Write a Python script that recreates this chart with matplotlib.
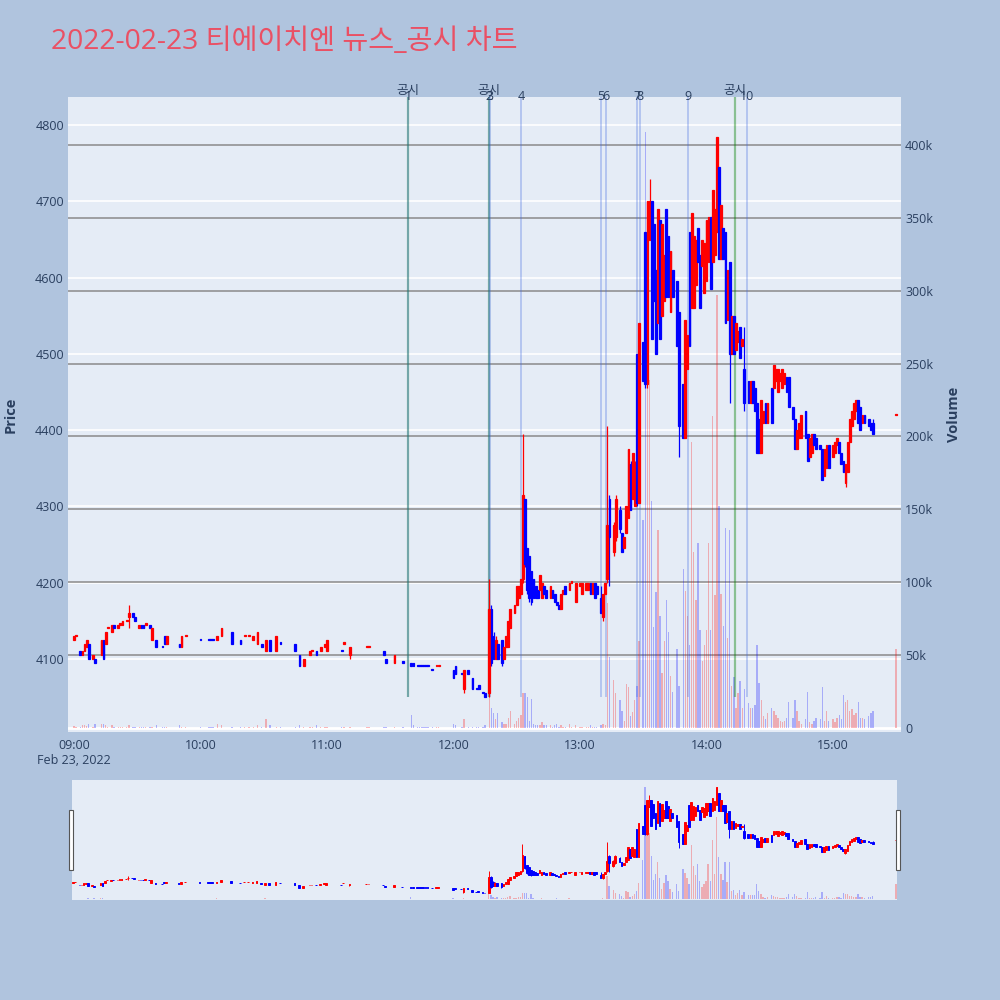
import matplotlib
matplotlib.use('Agg')
import matplotlib.pyplot as plt
import matplotlib.patches as patches
from matplotlib.ticker import FuncFormatter
import numpy as np

plt.rcParams['font.family'] = ['Open Sans', 'Noto Sans CJK KR', 'DejaVu Sans']

# minute candles, minutes after 09:00
minutes = [
    0, 1, 3, 4, 5, 6, 7, 9, 10, 13,
    14, 15, 16, 18, 19, 21, 22, 23, 25, 26,
    28, 29, 31, 32, 33, 34, 36, 37, 39, 42,
    43, 44, 50, 51, 53, 60, 64, 65, 66, 68,
    70, 75, 79, 81, 83, 85, 87, 89, 91, 93,
    96, 98, 105, 107, 109, 112, 113, 115, 117, 119,
    120, 127, 128, 131, 139, 140, 147, 148, 152, 156,
    160, 161, 163, 164, 165, 166, 167, 168, 170, 172,
    173, 180, 181, 184, 185, 187, 189, 191, 192, 194,
    195, 197, 198, 199, 200, 201, 203, 204, 205, 206,
    207, 209, 210, 211, 212, 213, 214, 215, 216, 217,
    218, 219, 220, 221, 222, 223, 224, 226, 227, 228,
    229, 230, 231, 232, 233, 235, 236, 238, 240, 241,
    243, 244, 245, 246, 247, 248, 250, 251, 252, 253,
    254, 256, 257, 259, 260, 261, 262, 263, 264, 265,
    266, 267, 268, 270, 271, 272, 273, 274, 275, 276,
    277, 278, 279, 280, 281, 282, 283, 284, 286, 287,
    289, 290, 291, 292, 293, 294, 295, 296, 297, 298,
    299, 300, 301, 302, 303, 304, 305, 306, 307, 308,
    309, 310, 311, 312, 313, 314, 315, 316, 317, 318,
    320, 321, 322, 323, 324, 325, 326, 327, 328, 329,
    331, 332, 333, 334, 335, 336, 337, 338, 339, 341,
    342, 343, 344, 345, 347, 348, 349, 350, 351, 352,
    354, 355, 356, 357, 358, 360, 361, 362, 363, 364,
    365, 366, 367, 368, 369, 370, 371, 372, 373, 374,
    375, 377, 378, 379, 390]

opens = [
    4125, 4130, 4110, 4105, 4110, 4115, 4120, 4100, 4100, 4105,
    4125, 4120, 4140, 4135, 4145, 4140, 4145, 4145, 4150, 4155,
    4160, 4155, 4140, 4145, 4145, 4145, 4145, 4125, 4125, 4115,
    4130, 4120, 4120, 4115, 4130, 4125, 4125, 4125, 4125, 4125,
    4130, 4135, 4125, 4130, 4130, 4125, 4120, 4120, 4110, 4125,
    4110, 4120, 4120, 4105, 4090, 4105, 4110, 4110, 4110, 4115,
    4110, 4110, 4120, 4105, 4115, 4115, 4110, 4100, 4095, 4095,
    4095, 4095, 4090, 4090, 4090, 4090, 4090, 4090, 4085, 4090,
    4090, 4085, 4090, 4080, 4060, 4085, 4075, 4060, 4065, 4055,
    4055, 4055, 4165, 4130, 4100, 4120, 4125, 4100, 4115, 4115,
    4140, 4160, 4170, 4180, 4185, 4205, 4310, 4245, 4235, 4215,
    4205, 4195, 4190, 4190, 4180, 4195, 4190, 4180, 4190, 4185,
    4175, 4170, 4165, 4185, 4195, 4190, 4200, 4175, 4195, 4185,
    4190, 4190, 4200, 4185, 4200, 4195, 4180, 4155, 4185, 4205,
    4310, 4240, 4260, 4295, 4265, 4245, 4265, 4285, 4355, 4310,
    4300, 4500, 4305, 4515, 4660, 4460, 4650, 4700, 4670, 4610,
    4540, 4675, 4550, 4570, 4690, 4655, 4555, 4610, 4595, 4555,
    4460, 4390, 4480, 4660, 4560, 4560, 4590, 4665, 4630, 4615,
    4580, 4595, 4620, 4680, 4620, 4630, 4660, 4745, 4625, 4665,
    4660, 4545, 4620, 4500, 4550, 4505, 4515, 4535, 4510, 4480,
    4465, 4435, 4465, 4455, 4435, 4415, 4370, 4410, 4435, 4410,
    4455, 4455, 4465, 4450, 4465, 4455, 4460, 4470, 4470, 4430,
    4415, 4375, 4390, 4390, 4425, 4395, 4365, 4370, 4395, 4390,
    4380, 4375, 4340, 4350, 4380, 4365, 4370, 4380, 4385, 4370,
    4360, 4330, 4345, 4385, 4405, 4415, 4425, 4440, 4430, 4410,
    4420, 4415, 4410, 4410, 4420]

highs = [
    4130, 4130, 4110, 4110, 4120, 4125, 4120, 4105, 4100, 4125,
    4125, 4135, 4140, 4145, 4145, 4145, 4145, 4150, 4150, 4170,
    4160, 4155, 4145, 4145, 4145, 4145, 4145, 4140, 4125, 4115,
    4130, 4130, 4120, 4130, 4130, 4125, 4125, 4125, 4125, 4130,
    4140, 4135, 4125, 4130, 4130, 4130, 4135, 4120, 4125, 4125,
    4130, 4120, 4120, 4105, 4100, 4110, 4110, 4110, 4115, 4120,
    4125, 4110, 4120, 4115, 4115, 4115, 4110, 4100, 4105, 4095,
    4095, 4095, 4090, 4090, 4090, 4090, 4090, 4090, 4085, 4090,
    4090, 4085, 4090, 4080, 4085, 4085, 4075, 4060, 4065, 4055,
    4055, 4205, 4170, 4135, 4130, 4120, 4125, 4115, 4130, 4150,
    4165, 4170, 4195, 4195, 4205, 4395, 4310, 4245, 4235, 4215,
    4205, 4195, 4190, 4210, 4200, 4195, 4190, 4195, 4190, 4185,
    4175, 4170, 4185, 4190, 4195, 4200, 4200, 4200, 4200, 4200,
    4200, 4200, 4200, 4200, 4200, 4195, 4195, 4185, 4200, 4405,
    4315, 4280, 4315, 4300, 4265, 4260, 4300, 4375, 4360, 4370,
    4360, 4500, 4540, 4515, 4660, 4700, 4730, 4700, 4670, 4610,
    4690, 4675, 4670, 4630, 4690, 4655, 4635, 4610, 4595, 4555,
    4460, 4545, 4525, 4660, 4685, 4655, 4650, 4665, 4630, 4650,
    4645, 4675, 4680, 4680, 4715, 4690, 4785, 4745, 4695, 4665,
    4660, 4610, 4620, 4550, 4550, 4540, 4530, 4535, 4520, 4535,
    4465, 4465, 4465, 4455, 4435, 4415, 4440, 4425, 4435, 4435,
    4455, 4485, 4480, 4480, 4475, 4480, 4475, 4470, 4470, 4430,
    4415, 4400, 4410, 4420, 4425, 4395, 4390, 4395, 4395, 4390,
    4380, 4375, 4375, 4380, 4380, 4380, 4385, 4390, 4385, 4370,
    4360, 4355, 4385, 4415, 4425, 4435, 4440, 4440, 4430, 4420,
    4420, 4415, 4410, 4415, 4420]

lows = [
    4125, 4130, 4105, 4105, 4110, 4115, 4100, 4100, 4095, 4105,
    4100, 4120, 4140, 4135, 4140, 4140, 4145, 4145, 4150, 4140,
    4155, 4150, 4140, 4140, 4140, 4145, 4140, 4125, 4115, 4115,
    4120, 4120, 4115, 4115, 4130, 4125, 4125, 4125, 4125, 4125,
    4130, 4120, 4120, 4130, 4130, 4125, 4120, 4115, 4110, 4110,
    4110, 4120, 4110, 4090, 4090, 4105, 4110, 4105, 4110, 4115,
    4110, 4110, 4120, 4100, 4115, 4115, 4105, 4095, 4095, 4095,
    4090, 4090, 4090, 4090, 4090, 4090, 4090, 4090, 4085, 4090,
    4090, 4075, 4080, 4080, 4055, 4080, 4060, 4060, 4060, 4055,
    4050, 4050, 4090, 4100, 4100, 4100, 4090, 4100, 4115, 4115,
    4140, 4160, 4170, 4180, 4185, 4200, 4220, 4185, 4175, 4170,
    4180, 4180, 4180, 4190, 4180, 4185, 4180, 4180, 4180, 4175,
    4170, 4165, 4165, 4185, 4185, 4190, 4200, 4175, 4195, 4185,
    4190, 4190, 4185, 4185, 4180, 4185, 4160, 4150, 4185, 4200,
    4195, 4235, 4255, 4265, 4240, 4245, 4265, 4285, 4295, 4310,
    4300, 4300, 4305, 4465, 4455, 4455, 4650, 4520, 4570, 4500,
    4540, 4520, 4550, 4570, 4575, 4575, 4555, 4575, 4510, 4365,
    4390, 4390, 4480, 4510, 4560, 4560, 4590, 4620, 4560, 4615,
    4580, 4595, 4620, 4585, 4620, 4630, 4660, 4625, 4625, 4625,
    4540, 4545, 4435, 4500, 4500, 4505, 4515, 4495, 4510, 4425,
    4435, 4435, 4435, 4425, 4370, 4370, 4370, 4410, 4410, 4410,
    4410, 4455, 4465, 4450, 4465, 4455, 4460, 4450, 4430, 4415,
    4375, 4375, 4390, 4390, 4390, 4360, 4365, 4370, 4380, 4375,
    4375, 4335, 4340, 4350, 4350, 4365, 4370, 4380, 4370, 4355,
    4345, 4325, 4345, 4385, 4405, 4415, 4425, 4410, 4400, 4410,
    4410, 4405, 4400, 4395, 4420]

closes = [
    4130, 4130, 4105, 4110, 4120, 4125, 4100, 4105, 4095, 4125,
    4100, 4135, 4140, 4145, 4140, 4145, 4145, 4150, 4150, 4160,
    4155, 4150, 4145, 4140, 4140, 4145, 4140, 4140, 4115, 4115,
    4120, 4130, 4115, 4130, 4130, 4125, 4125, 4125, 4125, 4130,
    4140, 4120, 4120, 4130, 4130, 4130, 4135, 4115, 4125, 4110,
    4130, 4120, 4110, 4090, 4100, 4110, 4110, 4105, 4115, 4120,
    4125, 4110, 4120, 4115, 4115, 4115, 4105, 4095, 4105, 4095,
    4090, 4090, 4090, 4090, 4090, 4090, 4090, 4090, 4085, 4090,
    4090, 4075, 4080, 4080, 4085, 4080, 4060, 4060, 4060, 4055,
    4050, 4165, 4095, 4100, 4125, 4100, 4095, 4115, 4130, 4150,
    4165, 4170, 4195, 4195, 4205, 4315, 4225, 4190, 4180, 4175,
    4180, 4180, 4180, 4210, 4200, 4185, 4180, 4195, 4180, 4175,
    4170, 4165, 4185, 4190, 4185, 4200, 4200, 4200, 4200, 4200,
    4200, 4200, 4185, 4200, 4180, 4185, 4160, 4185, 4200, 4275,
    4260, 4275, 4310, 4270, 4240, 4260, 4300, 4375, 4295, 4370,
    4355, 4305, 4540, 4465, 4460, 4700, 4700, 4520, 4570, 4500,
    4690, 4520, 4670, 4630, 4575, 4575, 4635, 4575, 4510, 4405,
    4390, 4545, 4525, 4510, 4685, 4655, 4650, 4620, 4560, 4650,
    4645, 4675, 4680, 4585, 4715, 4690, 4785, 4625, 4695, 4625,
    4540, 4610, 4500, 4550, 4500, 4540, 4530, 4495, 4520, 4435,
    4435, 4465, 4435, 4425, 4370, 4370, 4440, 4425, 4410, 4435,
    4410, 4485, 4480, 4480, 4475, 4480, 4475, 4450, 4430, 4415,
    4375, 4400, 4410, 4420, 4390, 4360, 4390, 4395, 4380, 4375,
    4375, 4335, 4375, 4380, 4350, 4380, 4385, 4390, 4370, 4355,
    4345, 4355, 4385, 4415, 4425, 4435, 4440, 4410, 4400, 4420,
    4410, 4405, 4400, 4395, 4420]

# volume in thousands of shares
volumes_k = [
    1.5, 1, 1, 2, 2, 1.5, 3, 1, 3, 3,
    3, 2, 1, 2, 1, 1, 1, 1, 1, 2,
    1, 1, 1, 1, 1, 1, 1, 1, 2, 1,
    1, 1, 2, 1, 1, 1, 1, 1, 1, 3,
    2, 1, 1, 1, 1, 1, 2, 1, 6, 2,
    1, 1, 1, 2, 1, 1, 1, 2, 1, 1,
    1, 1, 1, 1, 1, 1, 1, 1, 1, 1,
    9, 2, 1, 1, 1, 1, 1, 1, 1, 1,
    1, 3, 2, 1, 6, 1, 1, 1, 1, 1,
    2, 21, 14, 10, 6, 10, 4, 3, 3, 7,
    12, 3, 5, 7, 9, 24, 24, 21, 5, 20,
    3, 2, 2, 2, 4, 2, 2, 2, 1, 2,
    3, 1, 2, 1, 1, 3, 1, 2, 1, 1,
    1, 1, 2, 1, 1, 1, 2, 3, 2, 86,
    49, 33, 24, 19, 12, 5, 30, 28, 8, 11,
    19, 29, 60, 143, 409, 266, 239, 156, 69, 93,
    136, 77, 38, 60, 88, 66, 36, 25, 54, 29,
    109, 94, 77, 57, 196, 121, 88, 127, 67, 46,
    57, 67, 127, 67, 214, 91, 297, 152, 92, 70,
    137, 62, 136, 29, 35, 14, 24, 32, 14, 27,
    17, 14, 14, 16, 57, 31, 19, 8, 6, 10,
    14, 12, 9, 7, 5, 4, 5, 7, 18, 7,
    19, 12, 5, 3, 6, 25, 4, 3, 5, 7,
    6, 28, 5, 12, 5, 6, 4, 7, 9, 6,
    23, 18, 19, 12, 13, 9, 10, 18, 7, 7,
    6, 8, 10, 12, 54]

# news (numbered) and disclosure (공시) times, minutes after 09:00
news_times = [158.6, 196.9, 197.2, 212.0, 250.0, 252.4, 267.1, 268.5, 291.3, 319.3]
news_labels = ['1', '2', '3', '4', '5', '6', '7', '8', '9', '10']
disclosure_times = [158.4, 196.9, 313.6]

hour_ticks = [0, 60, 120, 180, 240, 300, 360]
hour_labels = ['09:00\nFeb 23, 2022', '10:00', '11:00', '12:00', '13:00', '14:00', '15:00']
price_ticks = [4100, 4200, 4300, 4400, 4500, 4600, 4700, 4800]
volume_ticks = [0, 50, 100, 150, 200, 250, 300, 350, 400]

PAPER = '#B0C4DE'
PLOT_BG = '#E5ECF6'
FONT_C = '#2a3f5f'
UP = '#FF0000'
DOWN = '#0000FF'

PRICE_LIM = (4004, 4837)
VOL_LIM = (-2.7e3, 432.8e3)

x = np.array(minutes, dtype=float)
o = np.array(opens, dtype=float)
h = np.array(highs, dtype=float)
l = np.array(lows, dtype=float)
c = np.array(closes, dtype=float)
v = np.array(volumes_k) * 1000


def directions(o, c):
    # doji candles take their colour from the move against the previous close
    ups = []
    prev_c, prev_up = None, True
    for oo, cc in zip(o, c):
        if cc > oo:
            up = True
        elif cc < oo:
            up = False
        elif prev_c is None or cc > prev_c:
            up = True
        elif cc < prev_c:
            up = False
        else:
            up = prev_up
        ups.append(up)
        prev_c, prev_up = cc, up
    return np.array(ups)


up = directions(o, c)
cols = np.where(up, UP, DOWN)


def draw_candles(axp, axv, lw, body_w):
    axv.bar(x, v, width=0.65, color=cols, alpha=0.27, linewidth=0, zorder=2)
    axp.vlines(x, l, h, colors=cols, linewidth=lw, zorder=4)
    body = np.maximum(np.abs(c - o), 1.5)
    axp.bar(x, body, bottom=np.minimum(o, c), width=body_w, color=cols,
            edgecolor=cols, linewidth=lw, zorder=5)


fig = plt.figure(figsize=(10, 10), dpi=100)
fig.patch.set_facecolor(PAPER)

# ---- main chart
ax = fig.add_axes([0.068, 0.268, 0.833, 0.635])
ax.set_facecolor(PLOT_BG)
axp = ax.twinx()
axp.set_zorder(ax.get_zorder() + 1)
axp.patch.set_visible(False)

ax.set_xlim(-2.85, 392.3)
ax.set_ylim(*VOL_LIM)
axp.set_ylim(*PRICE_LIM)

for p in price_ticks:
    ax.plot([-10, 400], [p, p], transform=axp.transData, color='white', lw=1.2, zorder=0.5)
for vt in volume_ticks[1:]:
    ax.axhline(vt * 1000, color='#8a8a8a', lw=1.1, zorder=1)
ax.axhline(0, color='white', lw=2, zorder=1.5)

draw_candles(axp, ax, 0.9, 0.85)

for t in disclosure_times:
    axp.vlines(t, 4050, PRICE_LIM[1], colors='green', alpha=0.4, linewidth=1.6, zorder=3)
    axp.text(t, 1.011, '공시', transform=axp.get_xaxis_transform(), ha='center', va='center',
             fontsize=9, color=FONT_C, clip_on=False)
for t, lab in zip(news_times, news_labels):
    axp.vlines(t, 4050, PRICE_LIM[1], colors='royalblue', alpha=0.3, linewidth=1.4, zorder=3)
    axp.text(t, 1.0, lab, transform=axp.get_xaxis_transform(), ha='center', va='center',
             fontsize=9, color=FONT_C, clip_on=False)

for a in (ax, axp):
    for s in a.spines.values():
        s.set_visible(False)

ax.set_xticks(hour_ticks)
ax.set_xticklabels(hour_labels)
ax.tick_params(axis='x', length=0, pad=5, labelsize=9, labelcolor=FONT_C)

ax.yaxis.tick_right()
ax.set_yticks([t * 1000 for t in volume_ticks])
ax.yaxis.set_major_formatter(FuncFormatter(lambda val, pos: '0' if val == 0 else '%dk' % round(val / 1000)))
ax.tick_params(axis='y', length=0, pad=3, labelsize=9, labelcolor=FONT_C)

axp.yaxis.tick_left()
axp.set_yticks(price_ticks)
axp.tick_params(axis='y', length=0, pad=3, labelsize=9, labelcolor=FONT_C)

fig.text(0.011, 0.5855, 'Price', rotation=90, ha='center', va='center',
         fontsize=10.5, fontweight='bold', color=FONT_C)
fig.text(0.954, 0.5855, 'Volume', rotation=90, ha='center', va='center',
         fontsize=10.5, fontweight='bold', color=FONT_C)
fig.text(0.051, 0.958, '2022-02-23 티에이치엔 뉴스_공시 차트', ha='left', va='center',
         fontsize=20.3, color='#EA5064')

# ---- range slider
axs = fig.add_axes([0.072, 0.100, 0.825, 0.120])
axs.set_facecolor(PLOT_BG)
axsp = axs.twinx()
axsp.patch.set_visible(False)
axs.set_xlim(-0.5, 390.5)
axs.set_ylim(*VOL_LIM)
axsp.set_ylim(*PRICE_LIM)
draw_candles(axsp, axs, 0.7, 0.8)
for a in (axs, axsp):
    a.set_xticks([])
    a.set_yticks([])
    for s in a.spines.values():
        s.set_visible(False)

for hx in (0.0685, 0.8955):
    fig.patches.append(patches.Rectangle((hx, 0.130), 0.0045, 0.060, transform=fig.transFigure,
                                         facecolor='white', edgecolor='#555555', linewidth=0.8))

fig.savefig('out.png', dpi=100, facecolor=PAPER)
